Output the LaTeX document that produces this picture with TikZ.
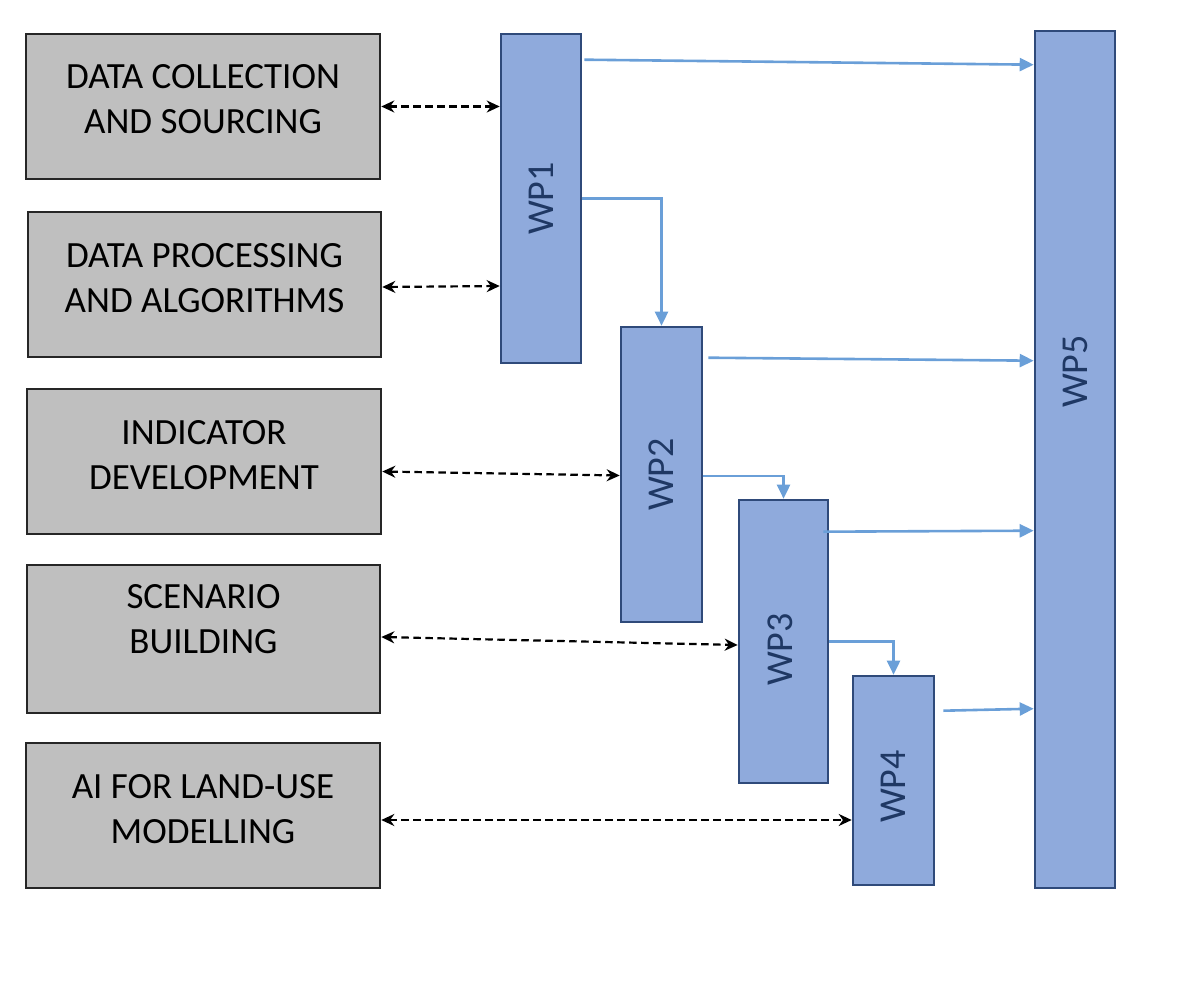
\documentclass[tikz,border=0pt]{standalone}
\usepackage{fontspec}
\setmainfont{Carlito}
\usetikzlibrary{calc,arrows.meta}

\definecolor{boxgray}{HTML}{BFBFBF}
\definecolor{grayedge}{HTML}{262626}
\definecolor{wpfill}{HTML}{8FAADC}
\definecolor{wpedge}{HTML}{2F4A7A}
\definecolor{wptext}{HTML}{1F3864}
\definecolor{flowblue}{HTML}{6A9FD8}

\begin{document}
\begin{tikzpicture}[x=1pt,y=-1pt,
    graybox/.style={draw=grayedge, line width=2.6pt, fill=boxgray, inner sep=0pt},
    wpbox/.style={draw=wpedge, line width=2.6pt, fill=wpfill, inner sep=0pt},
    boxtext/.style={align=center, inner sep=0pt, font=\fontsize{37}{45}\selectfont},
    wptxt/.style={rotate=90, inner sep=0pt, text=wptext, font=\fontsize{38}{45}\selectfont},
    link/.style={{Stealth[length=13pt,width=12pt]}-{Stealth[length=13pt,width=12pt]},
                 line width=2.2pt, dash pattern=on 7.5pt off 4.5pt},
    flow/.style={-{Triangle[length=14pt,width=13pt]}, draw=flowblue, line width=2.6pt}]

\useasboundingbox (0,0) rectangle (1178,984);

% Activities on the left
\node[graybox, minimum width=354, minimum height=145] (dcs) at (203,106.5) {};
\node[graybox, minimum width=353, minimum height=145] (dpa) at (204.5,284.5) {};
\node[graybox, minimum width=354, minimum height=145] (ind) at (204,461.5) {};
\node[graybox, minimum width=353, minimum height=148] (scb) at (203.5,639) {};
\node[graybox, minimum width=354, minimum height=145] (ail) at (203,815.5) {};

\node[boxtext] (dcs-t) at ($(dcs.center)+(0,-7.5)$) {DATA COLLECTION\\AND SOURCING};
\node[boxtext] (dpa-t) at ($(dpa.center)+(0,-6)$) {DATA PROCESSING\\AND ALGORITHMS};
\node[boxtext] (ind-t) at ($(ind.center)+(0,-6)$) {INDICATOR\\DEVELOPMENT};
\node[boxtext] (scb-t) at ($(scb.center)+(0,-19.5)$) {SCENARIO\\BUILDING};
\node[boxtext] (ail-t) at ($(ail.center)+(0,-6.5)$) {AI FOR LAND-USE\\MODELLING};

% Work packages
\node[wpbox, minimum width=80, minimum height=329] (wp1) at (541,198.5) {};
\node[wpbox, minimum width=81, minimum height=295] (wp2) at (661.5,474.5) {};
\node[wpbox, minimum width=89, minimum height=283] (wp3) at (783.5,641.5) {};
\node[wpbox, minimum width=81, minimum height=209] (wp4) at (893.5,780.5) {};
\node[wpbox, minimum width=80, minimum height=857] (wp5) at (1075,459.5) {};

\node[wptxt] (wp1-t) at (wp1.center) {WP1};
\node[wptxt] (wp2-t) at (wp2.center) {WP2};
\node[wptxt] (wp3-t) at ($(wp3.center)+(-3,8)$) {WP3};
\node[wptxt] (wp4-t) at ($(wp4.center)+(0,6)$) {WP4};
\node[wptxt] (wp5-t) at ($(wp5.center)+(0,-88)$) {WP5};

% Dashed links between activities and work packages
\draw[link] (dcs.east) -- (dcs.east -| wp1.west);
\draw[link] ($(dpa.east)+(0,2.5)$) -- ($(dpa.east -| wp1.west)+(0,1.5)$);
\draw[link] ($(ind.east)+(0,10)$) -- ($(ind.east -| wp2.west)+(0,14)$);
\draw[link] ($(scb.east)+(0,-2)$) -- ($(scb.east -| wp3.west)+(0,6)$);
\draw[link] ($(ail.east)+(0,4.5)$) -- ($(ail.east -| wp4.west)+(0,4.5)$);

% Flows towards WP5
\draw[flow] ($(wp1.north east)+(2,27)$) -- ($(wp1.north east -| wp5.west)+(0,32)$);
\draw[flow] ($(wp2.north east)+(5,32)$) -- ($(wp2.north east -| wp5.west)+(0,35)$);
\draw[flow] ($(wp3.north east)+(-6,33)$) -- ($(wp3.north east -| wp5.west)+(0,32)$);
\draw[flow] ($(wp4.north east)+(8,36)$) -- ($(wp4.north east -| wp5.west)+(0,34)$);

% Flows between work packages
\draw[flow] (wp1.east) -| (wp2.north);
\draw[flow] ($(wp2.east)+(0,1.5)$) -| (wp3.north);
\draw[flow] (wp3.east) -| (wp4.north);

\end{tikzpicture}
\end{document}
